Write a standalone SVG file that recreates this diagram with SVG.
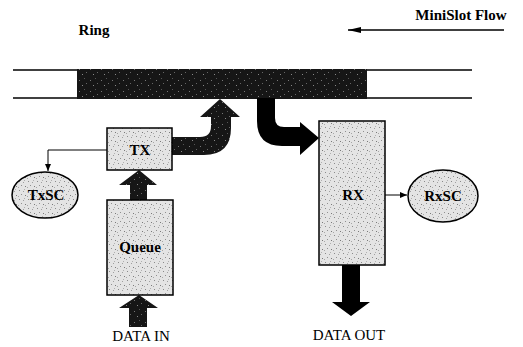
<svg xmlns="http://www.w3.org/2000/svg" width="523" height="347" viewBox="0 0 523 347">
<defs>
<pattern id="stip" width="9" height="9" patternUnits="userSpaceOnUse">
<rect width="9" height="9" fill="#e4e4e4"/>
<rect x="1" y="1" width="1" height="1" fill="#8a8a8a"/>
<rect x="5" y="2" width="1" height="1" fill="#a0a0a0"/>
<rect x="3" y="5" width="1" height="1" fill="#909090"/>
<rect x="7" y="6" width="1" height="1" fill="#7a7a7a"/>
<rect x="0" y="7" width="1" height="1" fill="#a8a8a8"/>
<rect x="6" y="0" width="1" height="1" fill="#b0b0b0"/>
</pattern>
<pattern id="darkstip" width="11" height="11" patternUnits="userSpaceOnUse">
<rect width="11" height="11" fill="#161616"/>
<rect x="2" y="3" width="1" height="1" fill="#777"/>
<rect x="7" y="1" width="1" height="1" fill="#555"/>
<rect x="5" y="8" width="1" height="1" fill="#888"/>
<rect x="9" y="6" width="1" height="1" fill="#666"/>
</pattern>
<marker id="ah" markerWidth="8" markerHeight="8" refX="7" refY="4" orient="auto" markerUnits="userSpaceOnUse">
<path d="M0,1 L7,4 L0,7 Z" fill="#000"/>
</marker>
<marker id="ahBig" markerWidth="14" markerHeight="10" refX="13" refY="5" orient="auto" markerUnits="userSpaceOnUse">
<path d="M0,2 L13,5 L0,8 Z" fill="#000"/>
</marker>
</defs>
<style>
.lbl{font-family:"Liberation Serif","Times New Roman",serif;font-weight:bold;font-size:15px;fill:#000;text-anchor:middle}
.plain{font-family:"Liberation Serif","Times New Roman",serif;font-size:15px;fill:#000;text-anchor:middle}
.box{fill:url(#stip);stroke:#000;stroke-width:1.5}
.ring{stroke:#000;stroke-width:1.6;fill:none}
.conn{stroke:#000;stroke-width:1;fill:none}
.fat{fill:url(#darkstip);stroke:none}
.solid{fill:#000;stroke:none}
</style>

<g id="ring">
<line class="ring" x1="13" y1="70" x2="472" y2="70"/>
<line class="ring" x1="13" y1="98" x2="472" y2="98"/>
<rect x="77" y="69" width="290" height="30" fill="url(#darkstip)"/>
<text class="lbl" x="94" y="35">Ring</text>
</g>

<g id="minislot-flow">
<text class="lbl" x="461" y="20">MiniSlot Flow</text>
<line x1="504" y1="30" x2="348" y2="30" stroke="#000" stroke-width="1.5" marker-end="url(#ahBig)"/>
</g>

<g id="connectors">
<!-- TX to ring curved arrow -->
<path class="fat" d="M172,137 L200,137 Q211,137 211,126 L211,117 L200,117 L220,99 L240,117 L231,117 L231,128 Q231,155 204,155 L172,155 Z"/>
<!-- ring to RX curved arrow -->
<path class="solid" d="M257,98 L275,98 L275,118 Q275,127 284,127 L300,127 L300,122 L319,138 L300,155 L300,146 L282,146 Q257,146 257,121 Z"/>
<!-- Queue to TX -->
<path class="fat" d="M130,200 L130,185 L119,185 L139,170 L157,185 L147,185 L147,200 Z"/>
<!-- DATA IN to Queue -->
<path class="fat" d="M129,327 L129,308 L119,308 L139,295 L158,308 L147,308 L147,327 Z"/>
<!-- RX to DATA OUT -->
<path class="solid" d="M342,265 L360,265 L360,302 L370,302 L351,316 L332,302 L342,302 Z"/>
<!-- TX to TxSC -->
<polyline class="conn" points="107,150 48,150 48,171" marker-end="url(#ah)"/>
<!-- RX to RxSC -->
<line class="conn" x1="385" y1="195" x2="407" y2="195" marker-end="url(#ah)"/>
</g>

<g id="tx">
<rect class="box" x="107" y="128" width="65" height="42"/>
<text class="lbl" x="140" y="155">TX</text>
</g>

<g id="queue">
<rect class="box" x="107" y="200" width="66" height="95"/>
<text class="lbl" x="140" y="252">Queue</text>
</g>

<g id="txsc">
<ellipse class="box" cx="45" cy="195" rx="33" ry="23"/>
<text class="lbl" x="46" y="200">TxSC</text>
</g>

<g id="rx">
<rect class="box" x="319" y="121" width="66" height="144"/>
<text class="lbl" x="353" y="200">RX</text>
</g>

<g id="rxsc">
<ellipse class="box" cx="443" cy="196" rx="35" ry="26"/>
<text class="lbl" x="443" y="201">RxSC</text>
</g>

<g id="labels">
<text class="plain" x="141" y="341">DATA IN</text>
<text class="plain" x="349" y="340">DATA OUT</text>
</g>
</svg>
